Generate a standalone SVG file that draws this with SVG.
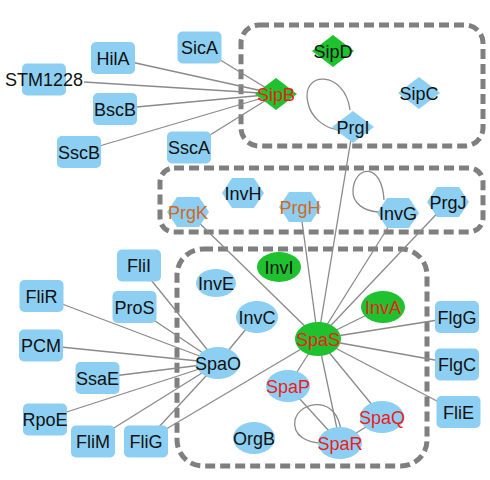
<svg xmlns="http://www.w3.org/2000/svg" xmlns:xlink="http://www.w3.org/1999/xlink" width="490" height="480" viewBox="0 0 490 480">
<style>
.e{stroke:#8a8a8a;stroke-width:1.3;fill:none}
.box{fill:none;stroke:#7f7f7f;stroke-width:5;stroke-dasharray:10 5}
.b{fill:#8ccff2}
.g{fill:#1fc12f}
text{font-family:"Liberation Sans",Arial,sans-serif;font-size:18px;text-anchor:middle;fill:#111}
.r{fill:#ee1c1c}
.o{fill:#d2691e}
</style>
<defs>
<rect id="rr" x="-22" y="-16" width="44" height="32" rx="5"/>
<polygon id="dm" points="-21,0 0,-16 21,0 0,16"/>
<polygon id="hx" points="-21,0 -11,-15 11,-15 21,0 11,15 -11,15"/>
</defs>
<rect class="box" x="241" y="25" width="242" height="121" rx="18"/>
<rect class="box" x="160" y="168" width="323" height="64" rx="14"/>
<rect class="box" x="177" y="249" width="250" height="217" rx="26"/>
<g id="edges" class="e">
<line x1="276" y1="94" x2="199" y2="47"/>
<line x1="276" y1="94" x2="113" y2="58"/>
<line x1="276" y1="94" x2="84" y2="82"/>
<line x1="276" y1="94" x2="115" y2="109"/>
<line x1="276" y1="94" x2="79" y2="152"/>
<line x1="276" y1="94" x2="189" y2="148"/>
<path d="M350 110 C345 70 300 70 308 103 C311 118 325 128 338 130"/>
<line x1="353" y1="127" x2="318" y2="339"/>
<line x1="188" y1="212" x2="318" y2="339"/>
<line x1="300" y1="207" x2="318" y2="339"/>
<line x1="397" y1="213" x2="318" y2="339"/>
<line x1="448" y1="202" x2="318" y2="339"/>
<path d="M384 200 C382 162 355 165 353 190 C352 204 365 211 378 212"/>
<line x1="318" y1="339" x2="383" y2="307"/>
<line x1="318" y1="339" x2="457" y2="317"/>
<line x1="318" y1="339" x2="457" y2="364"/>
<line x1="318" y1="339" x2="458" y2="412"/>
<line x1="318" y1="339" x2="382" y2="417"/>
<line x1="318" y1="339" x2="340" y2="443"/>
<line x1="318" y1="339" x2="288" y2="386"/>
<line x1="318" y1="339" x2="146" y2="441"/>
<line x1="288" y1="386" x2="340" y2="443"/>
<line x1="382" y1="417" x2="340" y2="443"/>
<path d="M341 432 C338 395 300 400 295 420 C292 436 308 443 322 443"/>
<line x1="218" y1="363" x2="139" y2="265"/>
<line x1="218" y1="363" x2="41" y2="296"/>
<line x1="218" y1="363" x2="134" y2="307"/>
<line x1="218" y1="363" x2="41" y2="345"/>
<line x1="218" y1="363" x2="97" y2="378"/>
<line x1="218" y1="363" x2="45" y2="419"/>
<line x1="218" y1="363" x2="93" y2="441"/>
<line x1="218" y1="363" x2="146" y2="441"/>
<line x1="218" y1="363" x2="256" y2="317"/>
</g>
<g id="SicA"><use href="#rr" class="b" x="199.5" y="47.5"/><text x="199.5" y="54">SicA</text></g>
<g id="HilA"><use href="#rr" class="b" x="113" y="58"/><text x="113" y="64.5">HilA</text></g>
<g id="STM1228"><use href="#rr" class="b" x="44" y="79.5"/><text x="44" y="86">STM1228</text></g>
<g id="BscB"><use href="#rr" class="b" x="115" y="109"/><text x="115" y="115.5">BscB</text></g>
<g id="SscB"><use href="#rr" class="b" x="79" y="152"/><text x="79" y="158.5">SscB</text></g>
<g id="SscA"><use href="#rr" class="b" x="189" y="147.5"/><text x="189" y="154">SscA</text></g>
<g id="SipB"><use href="#dm" class="g" x="276" y="94"/><text class="r" x="276" y="100.5">SipB</text></g>
<g id="SipD"><use href="#dm" class="g" x="333" y="51"/><text x="333" y="57.5">SipD</text></g>
<g id="SipC"><use href="#dm" class="b" x="419" y="93"/><text x="419" y="99.5">SipC</text></g>
<g id="PrgI"><use href="#dm" class="b" x="353" y="127"/><text x="353" y="133.5">PrgI</text></g>
<g id="PrgK"><use href="#hx" class="b" x="188" y="212"/><text class="o" x="188" y="218.5">PrgK</text></g>
<g id="InvH"><use href="#hx" class="b" x="243" y="193"/><text x="243" y="199.5">InvH</text></g>
<g id="PrgH"><use href="#hx" class="b" x="300" y="207"/><text class="o" x="300" y="213.5">PrgH</text></g>
<g id="InvG"><use href="#hx" class="b" x="398" y="213"/><text x="398" y="219.5">InvG</text></g>
<g id="PrgJ"><use href="#hx" class="b" x="448" y="202"/><text x="448" y="208.5">PrgJ</text></g>
<g id="InvI"><ellipse class="g" cx="279" cy="267" rx="22" ry="15"/><text x="279" y="273.5">InvI</text></g>
<g id="InvE"><ellipse class="b" cx="216" cy="283" rx="20" ry="14"/><text x="216" y="289.5">InvE</text></g>
<g id="InvA"><ellipse class="g" cx="383" cy="307" rx="22" ry="16"/><text class="r" x="383" y="313.5">InvA</text></g>
<g id="InvC"><ellipse class="b" cx="257" cy="317" rx="21" ry="16"/><text x="257" y="323.5">InvC</text></g>
<g id="SpaS"><ellipse class="g" cx="318" cy="339" rx="23" ry="17"/><text class="r" x="318" y="345.5">SpaS</text></g>
<g id="SpaO"><ellipse class="b" cx="218" cy="363" rx="22" ry="16"/><text x="218" y="369.5">SpaO</text></g>
<g id="SpaP"><ellipse class="b" cx="288" cy="386" rx="22" ry="16"/><text class="r" x="288" y="392.5">SpaP</text></g>
<g id="SpaQ"><ellipse class="b" cx="382" cy="417" rx="22" ry="16"/><text class="r" x="382" y="423.5">SpaQ</text></g>
<g id="SpaR"><ellipse class="b" cx="340" cy="443" rx="22" ry="16"/><text class="r" x="340" y="449.5">SpaR</text></g>
<g id="OrgB"><ellipse class="b" cx="254" cy="438" rx="21" ry="16"/><text x="254" y="444.5">OrgB</text></g>
<g id="FliI"><use href="#rr" class="b" x="139" y="265.5"/><text x="139" y="272">FliI</text></g>
<g id="FliR"><use href="#rr" class="b" x="41.5" y="296"/><text x="41.5" y="302.5">FliR</text></g>
<g id="ProS"><use href="#rr" class="b" x="134.5" y="307"/><text x="134.5" y="313.5">ProS</text></g>
<g id="PCM"><use href="#rr" class="b" x="41" y="345.5"/><text x="41" y="352">PCM</text></g>
<g id="SsaE"><use href="#rr" class="b" x="97.5" y="378"/><text x="97.5" y="384.5">SsaE</text></g>
<g id="RpoE"><use href="#rr" class="b" x="45" y="419.5"/><text x="45" y="426">RpoE</text></g>
<g id="FliM"><use href="#rr" class="b" x="93" y="441.5"/><text x="93" y="448">FliM</text></g>
<g id="FliG"><use href="#rr" class="b" x="146" y="441.5"/><text x="146" y="448">FliG</text></g>
<g id="FlgG"><use href="#rr" class="b" x="457" y="317"/><text x="457" y="323.5">FlgG</text></g>
<g id="FlgC"><use href="#rr" class="b" x="457" y="364.5"/><text x="457" y="371">FlgC</text></g>
<g id="FliE"><use href="#rr" class="b" x="458.5" y="412"/><text x="458.5" y="418.5">FliE</text></g>
</svg>
